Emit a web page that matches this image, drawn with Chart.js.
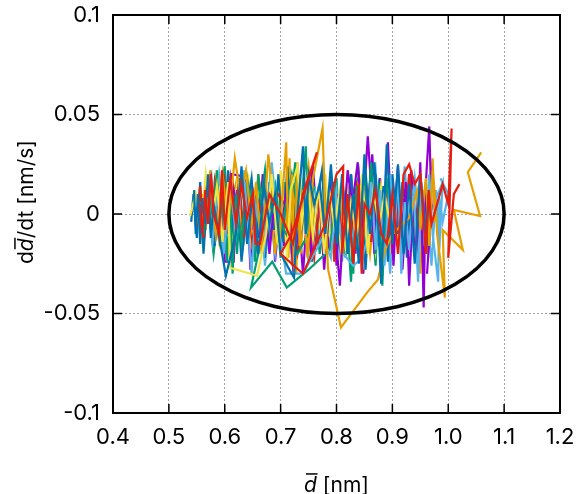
<!DOCTYPE html>
<html>
<head>
<meta charset="utf-8">
<script src="https://cdn.jsdelivr.net/npm/chart.js@4"></script>
<style>
  body { margin: 0; background: #ffffff; }
  canvas { display: block; }
</style>
</head>
<body>
<canvas id="chart" width="587" height="494"></canvas>
<script>
// Style settings
const chartStyles = {
    fontFamily: "Inter, 'Liberation Sans', sans-serif",
    tickFontSize: 22,
    titleFontSize: 21,
    gridColor: '#a0a0a0',
    lineWidth: 2.2,
    tickLen: 9
};

// Axis settings
const xMin = 0.4, xMax = 1.2, xStep = 0.1;
const yMin = -0.1, yMax = 0.1, yStep = 0.05;

// Boundary ellipse (centre and half-widths, data units)
const ellipseCx = 0.8, ellipseCy = 0;
const ellipseRx = 0.3, ellipseRy = 0.05;

// Trajectories [d, dd/dt]
const purple = [[0.585,0.004],[0.59,-0.012],[0.597,0.012],[0.6,-0.024],[0.616,-0.024],[0.62,0.004],[0.612,0.02],[0.632,0.019],[0.642,0.014],[0.648,-0.008],[0.656,0.012],[0.664,-0.016],[0.672,0.006],[0.68,-0.02],[0.69,0.01],[0.7,-0.012],[0.712,0.016],[0.722,-0.026],[0.735,-0.004],[0.745,0.012],[0.755,-0.022],[0.768,0.014],[0.778,-0.028],[0.79,0.018],[0.806,-0.036],[0.812,-0.008],[0.82,0.022],[0.828,0.004],[0.838,0.026],[0.846,-0.006],[0.856,0.039],[0.862,0.014],[0.868,-0.02],[0.874,0.01],[0.88,-0.03],[0.892,0.036],[0.896,0.01],[0.902,-0.026],[0.91,0.02],[0.916,-0.012],[0.924,0.016],[0.93,-0.036],[0.938,0.01],[0.944,-0.022],[0.95,0.026],[0.956,-0.047],[0.96,0.016],[0.966,0.044],[0.97,0.004],[0.962,-0.03]];
const purple2 = [[0.62,-0.005],[0.625,0.015],[0.632,-0.018],[0.64,0.008],[0.646,-0.028],[0.655,0.004],[0.66,-0.012],[0.668,0.02],[0.676,-0.006],[0.684,0.012],[0.69,-0.024],[0.7,0.006],[0.706,-0.016],[0.716,0.018],[0.724,-0.008],[0.73,0.01],[0.74,-0.03],[0.748,0.002],[0.758,0.024],[0.766,-0.012],[0.776,0.006],[0.786,-0.018],[0.794,0.016],[0.8,-0.026],[0.808,0.01],[0.818,-0.014],[0.826,0.02],[0.834,-0.02],[0.84,0.012],[0.848,-0.03],[0.856,0.004],[0.864,0.03],[0.872,-0.01],[0.878,0.018],[0.886,-0.022],[0.894,0.012],[0.9,-0.014],[0.91,0.024],[0.918,-0.028],[0.926,0.006],[0.934,0.022],[0.94,-0.016],[0.948,0.01],[0.954,-0.024],[0.96,0.004]];

const teal = [[0.558,0.006],[0.562,-0.01],[0.57,0.014],[0.578,-0.004],[0.586,0.022],[0.592,-0.016],[0.598,0.016],[0.604,-0.024],[0.61,0.006],[0.614,-0.03],[0.62,0.01],[0.63,-0.014],[0.64,0.018],[0.655,-0.01],[0.66,0.02],[0.67,-0.005],[0.69,0.015],[0.7,-0.01],[0.72,0.02],[0.735,-0.005],[0.745,0.034],[0.75,-0.01],[0.73,-0.02],[0.7,-0.005],[0.68,0.005],[0.66,-0.02],[0.647,-0.037],[0.685,-0.024],[0.711,-0.037],[0.75,-0.028],[0.788,-0.018],[0.796,0.002],[0.79,0.02],[0.802,-0.008],[0.81,0.012],[0.816,-0.022],[0.822,0.006],[0.83,-0.03],[0.836,0.014],[0.842,-0.01],[0.85,0.022],[0.856,-0.004],[0.862,0.026],[0.87,-0.02],[0.876,0.012],[0.882,-0.036],[0.89,0.016],[0.898,0.004],[0.91,0.01],[0.92,0.008]];
const teal2 = [[0.55,-0.004],[0.556,0.012],[0.562,-0.014],[0.57,0.006],[0.58,-0.02],[0.59,0.004],[0.6,0.024],[0.606,-0.008],[0.614,0.012],[0.622,-0.02],[0.63,0.02],[0.638,-0.006],[0.646,0.014],[0.654,-0.024],[0.662,0.002],[0.672,0.022],[0.68,-0.014],[0.69,0.008],[0.7,-0.022],[0.708,0.016],[0.716,-0.004],[0.726,0.026],[0.734,-0.018],[0.742,0.006],[0.752,-0.012],[0.76,0.014],[0.77,-0.02],[0.78,0.008],[0.79,-0.014],[0.8,0.018],[0.808,-0.024],[0.816,0.01],[0.826,-0.034],[0.832,0.004],[0.84,0.02],[0.85,-0.016],[0.86,0.01],[0.87,-0.026],[0.876,0.014],[0.884,0.002],[0.89,0.018]];

const lightBlue = [[0.57,0.002],[0.578,-0.014],[0.588,0.012],[0.598,-0.02],[0.61,0.014],[0.62,-0.01],[0.634,0.022],[0.648,-0.03],[0.656,0.004],[0.67,-0.02],[0.684,0.026],[0.696,-0.006],[0.71,-0.03],[0.74,-0.03],[0.76,-0.02],[0.776,-0.012],[0.79,-0.022],[0.8,0.008],[0.812,-0.02],[0.83,-0.026],[0.846,-0.022],[0.856,-0.012],[0.862,0.016],[0.87,-0.018],[0.878,0.012],[0.886,-0.026],[0.896,0.02],[0.904,-0.01],[0.91,0.02],[0.916,-0.03],[0.922,0.006],[0.93,-0.018],[0.938,0.012],[0.946,-0.034],[0.952,0.016],[0.958,-0.016],[0.966,0.02],[0.972,-0.01],[0.982,-0.034],[0.984,0.008],[0.99,-0.004],[1.0,0.01],[0.986,0.018]];
const lightBlue2 = [[0.565,-0.006],[0.572,0.016],[0.58,-0.01],[0.59,0.02],[0.6,-0.006],[0.61,-0.024],[0.62,0.004],[0.63,-0.016],[0.64,0.012],[0.65,-0.008],[0.66,0.018],[0.672,-0.026],[0.68,0.002],[0.69,-0.02],[0.7,0.014],[0.71,-0.008],[0.72,0.02],[0.73,-0.018],[0.74,0.006],[0.75,-0.024],[0.762,0.01],[0.77,-0.01],[0.78,0.016],[0.79,-0.004],[0.8,0.012],[0.81,-0.024],[0.82,0.014],[0.83,-0.012],[0.84,0.008],[0.85,-0.028],[0.86,0.006],[0.87,0.022],[0.878,-0.014],[0.888,0.004],[0.896,-0.03],[0.904,0.01],[0.914,-0.016],[0.922,0.024],[0.93,-0.008],[0.94,0.018],[0.95,-0.012],[0.96,0.01],[0.97,-0.026],[0.978,0.012],[0.984,-0.018],[0.99,0.016],[0.97,0.002]];

const orange = [[0.568,0.0],[0.574,0.016],[0.584,-0.01],[0.596,0.02],[0.606,-0.006],[0.618,0.028],[0.628,0.01],[0.638,0.022],[0.648,-0.006],[0.656,0.016],[0.666,-0.02],[0.678,0.03],[0.688,0.004],[0.698,-0.012],[0.71,0.036],[0.714,-0.022],[0.72,0.02],[0.724,-0.03],[0.73,0.026],[0.734,-0.016],[0.74,0.012],[0.748,-0.022],[0.758,0.018],[0.775,0.043],[0.78,0.0],[0.785,-0.028],[0.808,-0.057],[0.856,-0.039],[0.874,-0.033],[0.887,-0.018],[0.9,-0.01],[0.915,-0.006],[0.93,-0.002],[0.945,0.012],[0.95,-0.008],[0.96,0.018],[0.966,-0.016],[0.972,0.022],[0.976,0.01],[0.98,-0.01],[0.994,-0.042],[0.99,-0.008],[1.026,-0.018],[1.01,0.002],[1.057,-0.001],[1.035,0.021],[1.059,0.031]];
const orange2 = [[0.56,0.01],[0.566,-0.008],[0.574,0.022],[0.58,0.004],[0.59,-0.014],[0.6,0.012],[0.61,0.002],[0.622,0.018],[0.63,-0.012],[0.64,0.006],[0.65,-0.018],[0.66,0.02],[0.67,-0.004],[0.68,0.012],[0.69,-0.02],[0.7,0.018],[0.71,-0.01],[0.716,0.028],[0.72,-0.026],[0.724,0.016],[0.728,-0.03],[0.732,0.02],[0.736,-0.02],[0.742,0.006],[0.75,0.024],[0.76,-0.006],[0.77,0.01],[0.78,-0.018],[0.79,0.006],[0.8,-0.01],[0.812,0.014],[0.82,-0.008],[0.83,0.01],[0.84,-0.014],[0.85,0.004],[0.86,-0.02],[0.87,0.008],[0.88,-0.006],[0.89,0.012],[0.9,-0.004],[0.91,0.006],[0.92,-0.012],[0.93,0.016],[0.94,-0.006],[0.95,-0.03],[0.956,0.012],[0.964,-0.02],[0.972,0.028],[0.976,-0.004]];

const yellow = [[0.538,-0.001],[0.548,0.01],[0.556,-0.01],[0.566,0.02],[0.576,-0.006],[0.586,0.014],[0.596,-0.014],[0.606,0.016],[0.609,-0.027],[0.658,-0.031],[0.674,-0.01],[0.684,0.02],[0.694,-0.014],[0.711,-0.025],[0.718,0.012],[0.73,0.024],[0.738,-0.004],[0.748,0.018],[0.758,-0.012],[0.768,0.014],[0.778,-0.02],[0.788,0.01],[0.796,-0.006],[0.806,0.012],[0.816,-0.016],[0.826,0.006],[0.836,-0.012],[0.846,0.02],[0.856,-0.02],[0.866,0.012],[0.876,-0.006],[0.886,0.01],[0.894,-0.002]];
const yellow2 = [[0.552,0.004],[0.56,-0.014],[0.568,0.012],[0.576,-0.004],[0.586,0.022],[0.594,-0.01],[0.602,0.006],[0.612,-0.018],[0.622,0.014],[0.632,-0.004],[0.642,0.02],[0.65,-0.012],[0.66,0.008],[0.67,-0.02],[0.68,0.016],[0.69,-0.006],[0.7,0.022],[0.71,-0.016],[0.72,0.004],[0.73,-0.01],[0.74,0.018],[0.75,-0.02],[0.76,0.008],[0.77,-0.006],[0.78,0.02],[0.79,-0.016],[0.8,0.004],[0.81,-0.022],[0.82,0.012],[0.83,-0.004],[0.84,0.016],[0.85,-0.012],[0.86,0.006],[0.87,-0.018],[0.88,0.014],[0.89,-0.006],[0.9,0.01],[0.91,-0.012],[0.92,0.004]];

const blue = [[0.545,0.012],[0.548,-0.01],[0.552,0.01],[0.556,-0.015],[0.56,0.008],[0.565,-0.005],[0.57,0.02],[0.575,-0.012],[0.58,0.005],[0.602,-0.031],[0.62,-0.01],[0.63,0.024],[0.64,-0.015],[0.65,0.01],[0.66,-0.02],[0.67,0.015],[0.68,-0.005],[0.69,0.01],[0.7,-0.02],[0.724,-0.032],[0.73,0.0],[0.74,0.034],[0.745,-0.01],[0.75,0.02],[0.76,0.005],[0.77,0.015],[0.78,-0.01],[0.79,0.025],[0.8,-0.015],[0.81,0.02],[0.82,-0.02],[0.83,0.01],[0.84,-0.025],[0.85,0.03],[0.86,-0.01],[0.87,0.02],[0.88,-0.035],[0.89,0.035],[0.9,-0.015],[0.91,0.025],[0.92,-0.02],[0.93,0.015],[0.94,-0.025],[0.95,0.02],[0.96,-0.01],[0.965,0.01]];
const blue2 = [[0.54,-0.004],[0.544,0.01],[0.55,-0.012],[0.556,0.016],[0.562,-0.02],[0.568,0.006],[0.576,0.018],[0.582,-0.016],[0.59,0.01],[0.598,-0.02],[0.606,0.022],[0.614,-0.006],[0.622,0.012],[0.63,-0.024],[0.64,0.004],[0.648,0.018],[0.656,-0.012],[0.664,0.01],[0.672,-0.022],[0.68,0.016],[0.688,-0.008],[0.696,0.02],[0.704,-0.014],[0.712,0.024],[0.72,-0.02],[0.73,0.014],[0.738,-0.006],[0.748,0.018],[0.756,-0.024],[0.764,0.006],[0.774,0.022],[0.782,-0.014],[0.79,0.01],[0.8,-0.02],[0.81,0.016],[0.818,-0.008],[0.826,0.02],[0.836,-0.018],[0.844,0.012],[0.852,-0.028],[0.86,0.01],[0.868,0.026],[0.876,-0.016],[0.884,0.014],[0.892,-0.024],[0.9,0.02],[0.91,-0.01],[0.918,0.016],[0.926,-0.022],[0.934,0.01],[0.944,-0.014],[0.952,0.012],[0.96,-0.02],[0.968,0.006]];

const red = [[0.555,0.005],[0.56,-0.01],[0.565,0.012],[0.57,-0.005],[0.575,0.02],[0.58,0.0],[0.59,-0.01],[0.595,0.022],[0.6,-0.008],[0.61,0.018],[0.615,0.006],[0.62,-0.005],[0.63,0.015],[0.64,-0.002],[0.65,0.01],[0.655,-0.015],[0.663,-0.015],[0.68,0.01],[0.7,0.0],[0.722,-0.015],[0.74,0.01],[0.765,0.031],[0.72,-0.01],[0.7,-0.02],[0.74,-0.03],[0.78,-0.005],[0.8,0.02],[0.812,0.024],[0.81,-0.02],[0.82,0.01],[0.83,-0.025],[0.84,0.015],[0.845,-0.03],[0.85,0.005],[0.86,0.0],[0.87,0.012],[0.88,-0.01],[0.89,-0.015],[0.9,0.01],[0.91,-0.02],[0.92,0.02],[0.93,0.025],[0.94,0.015],[0.95,0.02],[0.96,-0.02],[0.965,0.012],[0.97,-0.005],[0.99,0.015],[1.0,0.005],[1.006,0.043],[1.0,-0.022],[1.01,0.01],[1.02,0.015]];
const red2 = [[0.55,-0.006],[0.556,0.014],[0.562,-0.012],[0.568,0.018],[0.576,-0.008],[0.582,0.016],[0.59,0.0],[0.598,0.02],[0.604,-0.01],[0.61,0.012],[0.618,-0.004],[0.626,0.018],[0.634,-0.012],[0.642,0.008],[0.65,-0.016],[0.66,0.006],[0.67,-0.004],[0.69,0.012],[0.71,0.004],[0.73,-0.02],[0.744,0.012],[0.752,-0.006],[0.76,-0.022],[0.77,0.006],[0.78,-0.016],[0.79,0.014],[0.796,-0.024],[0.802,0.01],[0.81,-0.012],[0.818,0.006],[0.826,-0.01],[0.836,0.014],[0.846,-0.004],[0.854,0.012],[0.862,-0.014],[0.87,0.006],[0.88,-0.008],[0.89,0.016],[0.9,-0.02],[0.91,0.004],[0.92,-0.012],[0.93,0.02],[0.94,-0.006],[0.95,0.014],[0.958,-0.016],[0.966,0.008]];

const seriesList = [
    { data: purple2, color: '#9400d3' },
    { data: teal2, color: '#009e73' },
    { data: lightBlue2, color: '#56b4e9' },
    { data: orange2, color: '#e69f00' },
    { data: yellow2, color: '#f0e442' },
    { data: blue2, color: '#0072b2' },
    { data: red2, color: '#e51e10' },
    { data: purple, color: '#9400d3' },
    { data: teal, color: '#009e73' },
    { data: lightBlue, color: '#56b4e9' },
    { data: orange, color: '#e69f00' },
    { data: yellow, color: '#f0e442' },
    { data: blue, color: '#0072b2' },
    { data: red, color: '#e51e10' }
];

const datasets = seriesList.map((s, i) => ({
    data: s.data.map(p => ({ x: p[0], y: p[1] })),
    borderColor: s.color,
    borderWidth: chartStyles.lineWidth,
    pointRadius: 0,
    fill: false,
    tension: 0,
    order: seriesList.length - i // later series drawn on top
}));

// Ellipse, frame, inward ticks and axis titles
const framePlugin = {
    id: 'framePlugin',
    afterDatasetsDraw: (chart) => {
        const c = chart.ctx, xs = chart.scales.x, ys = chart.scales.y;
        const cx = xs.getPixelForValue(ellipseCx), cy = ys.getPixelForValue(ellipseCy);
        const rx = Math.abs(xs.getPixelForValue(ellipseCx + ellipseRx) - cx);
        const ry = Math.abs(ys.getPixelForValue(ellipseCy + ellipseRy) - cy);
        c.save();
        c.beginPath();
        c.ellipse(cx, cy, rx, ry, 0, 0, Math.PI * 2);
        c.lineWidth = 3.5;
        c.strokeStyle = '#000000';
        c.stroke();
        c.restore();
    },
    afterDraw: (chart) => {
        const c = chart.ctx, a = chart.chartArea;
        const xs = chart.scales.x, ys = chart.scales.y;
        const t = chartStyles.tickLen;
        c.save();
        c.strokeStyle = '#000000';
        c.lineWidth = 2;
        c.strokeRect(a.left, a.top, a.right - a.left, a.bottom - a.top);
        c.lineWidth = 1.5;
        c.beginPath();
        xs.ticks.forEach(tk => {
            const px = xs.getPixelForValue(tk.value);
            c.moveTo(px, a.bottom); c.lineTo(px, a.bottom - t);
            c.moveTo(px, a.top); c.lineTo(px, a.top + t);
        });
        ys.ticks.forEach(tk => {
            const py = ys.getPixelForValue(tk.value);
            c.moveTo(a.left, py); c.lineTo(a.left + t, py);
            c.moveTo(a.right, py); c.lineTo(a.right - t, py);
        });
        c.stroke();

        // axis titles with italic, overlined d
        const fs = chartStyles.titleFontSize;
        const normal = fs + 'px ' + chartStyles.fontFamily;
        const italic = 'italic ' + fs + 'px ' + chartStyles.fontFamily;
        c.fillStyle = '#000000';
        c.textBaseline = 'alphabetic';
        c.textAlign = 'left';
        function bar(x0, w, y) {
            c.beginPath();
            c.lineWidth = 1.5;
            c.moveTo(x0 + w * 0.15, y);
            c.lineTo(x0 + w * 1.05, y);
            c.stroke();
        }

        // x title
        c.font = italic;
        const wd = c.measureText('d').width;
        c.font = normal;
        const wr = c.measureText(' [nm]').width;
        let x0 = (a.left + a.right) / 2 - (wd + wr) / 2;
        const yb = 492;
        c.font = italic;
        c.fillText('d', x0, yb);
        bar(x0, wd, yb - fs * 0.86);
        c.font = normal;
        c.fillText(' [nm]', x0 + wd, yb);

        // y title
        c.translate(33, 202);
        c.rotate(-Math.PI / 2);
        c.font = normal;
        const w1 = c.measureText('d').width;
        const w3 = c.measureText('/dt [nm/s]').width;
        c.font = italic;
        const w2 = c.measureText('d').width;
        let s = -(w1 + w2 + w3) / 2;
        c.font = normal;
        c.fillText('d', s, 0);
        c.font = italic;
        c.fillText('d', s + w1, 0);
        bar(s + w1, w2, -fs * 0.86);
        c.font = normal;
        c.fillText('/dt [nm/s]', s + w1 + w2, 0);
        c.restore();
    }
};

const config = {
    type: 'line',
    data: { datasets: datasets },
    options: {
        responsive: false,
        animation: false,
        layout: { padding: { top: 15, right: 27, left: 0, bottom: 0 } },
        plugins: {
            legend: { display: false },
            tooltip: { enabled: false }
        },
        scales: {
            x: {
                type: 'linear',
                min: xMin,
                max: xMax,
                afterFit: scale => {
                    scale.height = 81;
                    scale.paddingLeft = 0;
                    scale.paddingRight = 0;
                },
                ticks: {
                    stepSize: xStep,
                    padding: 11,
                    color: '#000000',
                    font: { family: chartStyles.fontFamily, size: chartStyles.tickFontSize },
                    callback: v => v.toFixed(1)
                },
                grid: { color: chartStyles.gridColor, lineWidth: 1, drawTicks: false },
                border: { display: false, dash: [2, 2] }
            },
            y: {
                type: 'linear',
                min: yMin,
                max: yMax,
                afterFit: scale => {
                    scale.width = 113;
                    scale.paddingTop = 0;
                    scale.paddingBottom = 0;
                },
                ticks: {
                    stepSize: yStep,
                    padding: 13,
                    color: '#000000',
                    font: { family: chartStyles.fontFamily, size: chartStyles.tickFontSize },
                    callback: v => String(Number(v.toFixed(2)))
                },
                grid: { color: chartStyles.gridColor, lineWidth: 1, drawTicks: false },
                border: { display: false, dash: [2, 2] }
            }
        }
    },
    plugins: [framePlugin]
};

new Chart(document.getElementById('chart'), config);
</script>
</body>
</html>
